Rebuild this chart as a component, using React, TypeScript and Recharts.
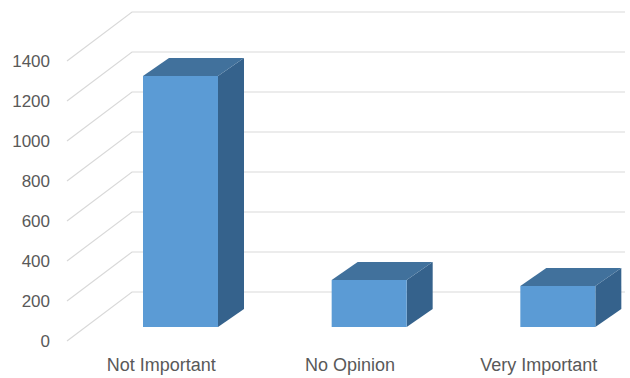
import React from 'react';
import { BarChart, Bar, XAxis, YAxis, CartesianGrid } from 'recharts';

const categories = ['Not Important', 'No Opinion', 'Very Important'];
const counts = [1255, 235, 205];
const yTicks = [0, 200, 400, 600, 800, 1000, 1200, 1400];

const data = categories.map((c, i) => ({ name: c, value: counts[i] }));

const FONT = '"Liberation Sans", Arial, sans-serif';
const TEXT = '#595959';
const GRID = '#D9D9D9';
const FRONT = '#5B9BD5';
const TOP = '#41719C';
const SIDE = '#35628C';

const DX = 26;
const DY = 18;

const Bar3D = (props: any) => {
  const { x, y, width, height } = props;
  if (height <= 0) return null;
  const top = `M${x},${y} L${x + DX},${y - DY} L${x + width + DX},${y - DY} L${x + width},${y} Z`;
  const side = `M${x + width},${y} L${x + width + DX},${y - DY} L${x + width + DX},${y + height - DY} L${x + width},${y + height} Z`;
  return (
    <g>
      <path d={side} fill={SIDE} />
      <path d={top} fill={TOP} />
      <rect x={x} y={y} width={width} height={height} fill={FRONT} />
    </g>
  );
};

const GridLine = (props: any) => {
  const { y1 } = props;
  const d = `M67,${y1 + 14} L132,${y1 - 35} L625,${y1 - 35}`;
  return <path d={d} stroke={GRID} strokeWidth={1.2} fill="none" />;
};

const YTick = (props: any) => {
  const { y, payload } = props;
  return (
    <text x={50} y={y + 14} dy={6} textAnchor="end" fontFamily={FONT} fontSize={17} fill={TEXT}>
      {payload.value}
    </text>
  );
};

const XTick = (props: any) => {
  const { x, payload } = props;
  return (
    <text x={x - 19} y={371} textAnchor="middle" fontFamily={FONT} fontSize={18} fill={TEXT}>
      {payload.value}
    </text>
  );
};

export default function App() {
  return (
    <div style={{ position: 'absolute', left: 0, top: 0, width: 630, height: 378, overflow: 'hidden', background: '#fff' }}>
      <BarChart
        width={652}
        height={378}
        data={data}
        margin={{ top: 47, right: 0, bottom: 0, left: 0 }}
      >
        <CartesianGrid vertical={false} horizontal={<GridLine />} />
        <YAxis
          width={86}
          domain={[0, 1400]}
          ticks={yTicks}
          axisLine={false}
          tickLine={false}
          tick={<YTick />}
        />
        <XAxis dataKey="name" height={51} axisLine={false} tickLine={false} tick={<XTick />} interval={0} />
        <Bar dataKey="value" barSize={75} shape={<Bar3D />} isAnimationActive={false} />
      </BarChart>
    </div>
  );
}
